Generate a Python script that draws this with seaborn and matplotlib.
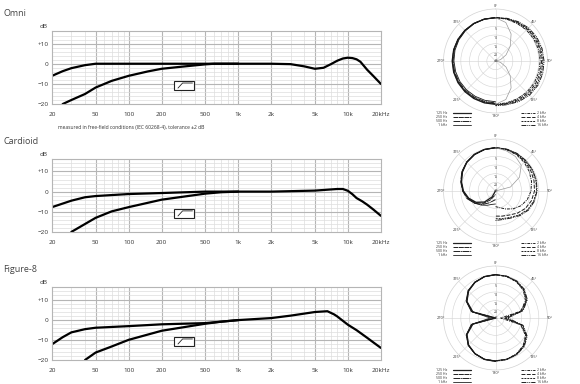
import numpy as np
import matplotlib
matplotlib.use("Agg")
import matplotlib.pyplot as plt
import seaborn as sns
from matplotlib.patches import Rectangle
from matplotlib.lines import Line2D

# frequency response data (Hz, dB)
OMNI_F = [20, 25, 30, 40, 50, 70, 100, 200, 500, 1000, 2000, 3000, 4000, 5000, 6000, 7000, 8000, 9000, 10000, 11000, 12000, 13000, 15000, 17000, 20000]
OMNI_DB = [-6, -3.7, -2.2, -0.7, 0, 0, 0, 0, 0, 0, 0, -0.2, -1.3, -2.5, -2, -0.2, 1.5, 2.6, 3, 2.8, 2.2, 1.0, -3, -6, -10]
OMNI_LC_F = [25, 30, 40, 50, 70, 100, 150, 200, 300, 500, 600, 1000]
OMNI_LC_DB = [-20, -18, -15, -11.8, -8.5, -6, -3.8, -2.5, -1.5, -0.3, 0, 0]

CARD_F = [20, 30, 40, 50, 100, 200, 500, 1000, 2000, 5000, 8000, 9000, 10000, 11000, 12000, 13500, 15000, 17000, 20000]
CARD_DB = [-7.7, -4.5, -2.8, -2.2, -1.2, -0.7, 0, 0, 0, 0.5, 1.3, 1.3, 0.4, -1.3, -3.2, -4.8, -6.5, -8.8, -12]
CARD_LC_F = [30, 50, 70, 100, 200, 500, 700, 1000]
CARD_LC_DB = [-20, -13, -9.8, -7.7, -4, -1, -0.3, 0]

FIG8_F = [20, 25, 30, 40, 50, 100, 200, 500, 1000, 2000, 3000, 5000, 6500, 7500, 8000, 10000, 12000, 15000, 17000, 20000]
FIG8_DB = [-12.2, -8.7, -6.3, -4.7, -4, -3.2, -2.3, -1.7, -0.2, 0.8, 2, 3.8, 4.2, 2.6, 1.6, -2.5, -5.2, -9, -11.2, -14]
FIG8_LC_F = [40, 50, 70, 100, 200, 500, 700, 1000]
FIG8_LC_DB = [-20, -16.3, -13.3, -10, -5.5, -2, -1, -0.2]

X_TICKS = [20, 50, 100, 200, 500, 1000, 2000, 5000, 10000, 20000]
X_LABELS = ["20", "50", "100", "200", "500", "1k", "2k", "5k", "10k", "20kHz"]
Y_TICKS = [-20, -10, 0, 10]
Y_LABELS = ["\u221220", "\u221210", "0", "+10"]
TITLES = ["Omni", "Cardioid", "Figure-8"]

# polar data: dB per angle (degrees off axis)
ANGLES = [0, 15, 30, 45, 60, 75, 90, 105, 120, 135, 150, 165, 180]
LOW_FREQS = ["125 Hz", "250 Hz", "500 Hz", "1 kHz"]
HIGH_FREQS = ["2 kHz", "4 kHz", "8 kHz", "16 kHz"]

OMNI_LOW = [
    [0, 0, 0, 0, 0, 0, 0, 0, 0, 0, 0, 0, 0],
    [0, 0, 0, 0, 0, 0, -0.2, -0.2, -0.3, -0.3, -0.3, -0.3, -0.3],
    [0, 0, 0, -0.2, -0.3, -0.4, -0.5, -0.6, -0.7, -0.8, -0.8, -0.8, -0.8],
    [0, 0, -0.2, -0.4, -0.6, -0.8, -1, -1.2, -1.3, -1.4, -1.5, -1.5, -1.5],
]
OMNI_HIGH = [
    [0, 0, 0, 0.3, 0.5, 0.7, 0.8, 0.8, 0.7, 0.5, 0.2, 0, 0],
    [0, 0.2, 0.5, 1, 1.3, 1.5, 1.6, 1.7, 1.6, 1.3, 0.8, 0.4, 0.3],
    [0, 0.3, 0.8, 1.4, 1.8, 2.1, 2.3, 2.5, 2.5, 2.1, 1.4, 0.7, 0.5],
    [0, 0.5, 1.2, 2, 2.5, 2.8, 3, 3.2, 3.2, 2.8, 2, 1.1, 0.8],
]
OMNI_THIN = [0, -2, -7, -13, -18, -22, -25, -22, -18, -13, -7, -2, 0]

CARD_LOW = [
    [0, -0.2, -0.7, -1.6, -3, -4.7, -6.5, -9, -12, -16, -21, -25, -25],
    [0, -0.2, -0.6, -1.5, -2.8, -4.5, -6.2, -8.5, -11.5, -15, -19, -22, -23],
    [0, -0.2, -0.6, -1.4, -2.6, -4.2, -6, -8, -11, -14, -17, -19, -20],
    [0, -0.3, -0.8, -1.6, -2.8, -4.5, -6.3, -8.5, -11, -13.5, -15.5, -17, -17.5],
]
CARD_HIGH = [
    [0, -0.3, -0.8, -1.6, -2.5, -3.5, -4.5, -6, -8, -10.5, -13, -15, -16],
    [0, -0.2, -0.5, -1, -1.5, -2, -2.5, -3.5, -5, -7, -9, -10, -10.5],
    [0, 0, -0.2, -0.4, -0.6, -0.9, -1.3, -2.2, -3.5, -5.5, -7.5, -8.5, -9],
    [0, 0, 0, -0.2, -0.4, -0.6, -1, -1.8, -3, -5, -7, -8, -8],
]
CARD_THIN = [0, -1, -2, -4, -9, -16, -25]

FIG8_LOW = [
    [0, -0.3, -1.3, -3, -6, -11.5, -25, -11.5, -6, -3, -1.3, -0.3, 0],
    [0, -0.3, -1.2, -2.9, -5.8, -11, -25, -11, -5.8, -2.9, -1.2, -0.3, 0],
    [0, -0.3, -1.2, -2.8, -5.7, -11, -24, -11, -5.7, -2.8, -1.2, -0.3, -0.2],
    [0, -0.3, -1.1, -2.6, -5.4, -10.5, -22, -10.5, -5.5, -2.7, -1.2, -0.4, -0.3],
]
FIG8_HIGH = [
    [0, -0.2, -0.9, -2.3, -5, -10, -22, -10, -5, -2.4, -1, -0.4, -0.3],
    [0, -0.1, -0.7, -2, -4.5, -9.5, -20, -9.5, -4.6, -2.1, -0.8, -0.3, -0.3],
    [0, -0.1, -0.6, -1.8, -4.2, -9, -19, -9, -4.3, -1.9, -0.7, -0.2, -0.2],
    [0, 0, -0.4, -1.5, -3.8, -8.5, -18, -8.5, -3.9, -1.6, -0.6, -0.2, -0.1],
]

LOW_STYLES = [("-", 0.9), ((0, (5, 0.6)), 0.7), ((0, (7, 0.6, 1, 0.6)), 0.7), ("-", 0.6)]
HIGH_STYLES = [((0, (3, 1, 1, 1)), 0.7), ((0, (4, 1.5)), 0.7), ((0, (2, 1)), 0.7), ((0, (5, 1, 1, 1, 1, 1)), 0.7)]

sns.set_theme(style="white")
plt.rcParams["font.family"] = ["Open Sans", "DejaVu Sans"]

TXT = "#333333"
GRID_MAJ = "#b5b5b5"
GRID_MIN = "#dddddd"

fig = plt.figure(figsize=(5.8, 3.84), dpi=100)

# overlay in pixel coordinates for titles and small legends
over = fig.add_axes([0, 0, 1, 1])
over.set_xlim(0, 580)
over.set_ylim(384, 0)
over.axis("off")


def freq_axes(pos, curves):
    ax = fig.add_axes(pos)
    for f, db in curves:
        sns.lineplot(x=f, y=db, ax=ax, color="black", linewidth=1.6, estimator=None, sort=False)
    ax.set_xscale("log")
    ax.set_xlim(20, 20000)
    ax.set_ylim(-20, 16)
    minor_x = [f * d for d in [10, 100, 1000] for f in range(2, 10)] + [30, 40, 60, 70, 80, 90]
    for x in sorted(set(minor_x)):
        if 20 < x < 20000 and x not in X_TICKS:
            ax.axvline(x, color=GRID_MIN, lw=0.5, zorder=0)
    for x in X_TICKS[1:-1]:
        ax.axvline(x, color=GRID_MAJ, lw=0.8, zorder=0)
    for y in range(-18, 16, 2):
        ax.axhline(y, color=GRID_MIN, lw=0.5, zorder=0)
    for y in [-10, 0, 10]:
        ax.axhline(y, color=GRID_MAJ, lw=0.8, zorder=0)
    ax.set_xticks(X_TICKS)
    ax.set_xticklabels(X_LABELS)
    ax.set_xticks([], minor=True)
    ax.set_yticks(Y_TICKS)
    ax.set_yticklabels(Y_LABELS)
    ax.tick_params(axis="both", length=0, labelsize=4.6, colors=TXT)
    ax.tick_params(axis="x", pad=5.5)
    ax.tick_params(axis="y", pad=2.5)
    for s in ax.spines.values():
        s.set_color(GRID_MAJ)
        s.set_linewidth(0.8)
    ax.set_xlabel("")
    ax.set_ylabel("")
    ax.text(-0.012, 1.035, "dB", transform=ax.transAxes, ha="right", va="bottom",
            fontsize=4.6, color=TXT)
    # low-cut filter symbol
    ax.add_patch(Rectangle((0.371, 0.194), 0.061, 0.125, transform=ax.transAxes,
                           facecolor="white", edgecolor="#222222", lw=0.8, zorder=5))
    ax.add_line(Line2D([0.383, 0.397, 0.427], [0.22, 0.29, 0.29], transform=ax.transAxes,
                       color="#222222", lw=0.6, zorder=6))
    return ax


def polar_axes(pos, low, high, thin=None):
    ax = fig.add_axes(pos, projection="polar")
    ax.set_theta_zero_location("N")
    ax.set_theta_direction(-1)
    ang = np.deg2rad(ANGLES)
    for vals, (ls, lw) in zip(low, LOW_STYLES):
        sns.lineplot(x=2 * np.pi - ang, y=np.clip(vals, -25, 5), ax=ax, color="#1a1a1a",
                     linestyle=ls, linewidth=lw, estimator=None, sort=False)
    for vals, (ls, lw) in zip(high, HIGH_STYLES):
        sns.lineplot(x=ang, y=np.clip(vals, -25, 5), ax=ax, color="#1a1a1a",
                     linestyle=ls, linewidth=lw, estimator=None, sort=False)
    if thin is not None:
        sns.lineplot(x=ang[:len(thin)], y=thin, ax=ax, color="#999999", linewidth=0.5,
                     estimator=None, sort=False)
    ax.set_ylim(-25, 5)
    ax.set_rgrids([-20, -15, -10, -5, 0], labels=[""] * 5)
    ax.set_thetagrids(range(0, 360, 45), labels=[""] * 8)
    ax.grid(color="#d2d2d2", lw=0.4)
    ax.spines["polar"].set_color("#d2d2d2")
    ax.spines["polar"].set_linewidth(0.5)
    ax.set_xlabel("")
    ax.set_ylabel("")
    # angle labels just outside the outer ring
    for a in range(0, 360, 45):
        ax.text(np.deg2rad(a), 6.6, f"{a}\u00b0", fontsize=2.8, color=TXT,
                ha="center", va="center", clip_on=False)
    for r in [-5, -10, -15, -20]:
        ax.text(0, r - 1.8, str(-r), fontsize=2.5, color=TXT, ha="center", va="center")
    ax.text(0, -25, "dB", fontsize=2.5, color=TXT, ha="center", va="center")
    return ax


freq_curves = [
    [(OMNI_F, OMNI_DB), (OMNI_LC_F, OMNI_LC_DB)],
    [(CARD_F, CARD_DB), (CARD_LC_F, CARD_LC_DB)],
    [(FIG8_F, FIG8_DB), (FIG8_LC_F, FIG8_LC_DB)],
]
freq_pos = [[0.0897, 0.729, 0.567, 0.189], [0.0897, 0.396, 0.567, 0.189], [0.0897, 0.0625, 0.567, 0.189]]
title_y = [14, 142, 269]
polar_cy = [61, 191, 318]
polar_data = [(OMNI_LOW, OMNI_HIGH, OMNI_THIN), (CARD_LOW, CARD_HIGH, CARD_THIN), (FIG8_LOW, FIG8_HIGH, None)]

for i in range(3):
    freq_axes(freq_pos[i], freq_curves[i])
    over.text(3, title_y[i], TITLES[i], fontsize=6.5, color="#444444", ha="left", va="center")

    cy = polar_cy[i]
    cx = 495.5
    rad = 52
    polar_axes([(cx - rad) / 580, 1 - (cy + rad) / 384, 2 * rad / 580, 2 * rad / 384], *polar_data[i])

    # small legends beside the 180 degree label
    for k in range(4):
        yy = cy + 52 + 4 * k
        over.text(447, yy, LOW_FREQS[k], fontsize=2.5, color=TXT, ha="right", va="center")
        over.add_line(Line2D([453, 471], [yy, yy], color="#222222",
                             linestyle=LOW_STYLES[k][0], lw=LOW_STYLES[k][1]))
        over.add_line(Line2D([521, 535], [yy, yy], color="#222222",
                             linestyle=HIGH_STYLES[k][0], lw=HIGH_STYLES[k][1]))
        over.text(537, yy, HIGH_FREQS[k], fontsize=2.5, color=TXT, ha="left", va="center")

over.text(58, 127, "measured in free-field conditions (IEC 60268-4), tolerance \u00b12 dB",
          fontsize=3.6, color=TXT, ha="left", va="center")

fig.savefig("out.png", dpi=100)
